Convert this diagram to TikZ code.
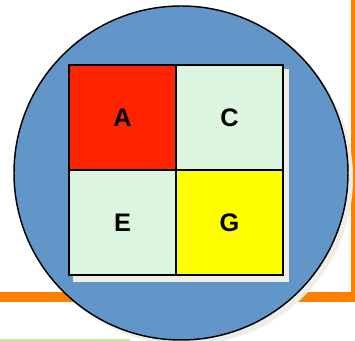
\documentclass[tikz,border=0pt]{standalone}
\usepackage{xcolor}
\usepackage{fontspec}
\setmainfont{Liberation Sans}
\usepackage{tikz}

\definecolor{discblue}{RGB}{98,150,201}
\definecolor{shadowgrey}{RGB}{238,238,230}
\definecolor{barorange}{RGB}{255,128,0}
\definecolor{linegreen}{RGB}{198,230,160}
\definecolor{cellred}{RGB}{255,36,0}
\definecolor{cellmint}{RGB}{219,245,222}
\definecolor{cellyellow}{RGB}{255,255,0}

\begin{document}
\begin{tikzpicture}[x=0.75pt,y=0.75pt,yscale=-1,xscale=1]
\tikzset{
  cell/.style={draw, line width=1.5pt, inner sep=0pt, minimum width=80.25pt, minimum height=78.75pt,
    font=\fontsize{19}{19}\selectfont\bfseries}
}
\useasboundingbox (0,0) rectangle (355,341);
\clip (0,0) rectangle (355,341);

%Straight Lines: orange bar
\draw [color=barorange, line width=7.9pt]  (0,296.8) -- (356.2,296.8) -- (356.2,-10) ;
%Straight Lines: green line
\fill [color=linegreen]  (0,339.3) rectangle (130,342) ;

%Shape: Circle shadow
\fill [color=shadowgrey]  (186,178) circle [radius=167] ;
%Shape: Circle
\draw [fill=discblue, line width=1.1pt]  (181,173) circle [radius=167] ;

%Shape: Rectangle shadow
\fill [color=shadowgrey]  (73,69) rectangle (289,282.5) ;

% Cell Nodes
\node (cellA) [cell, fill=cellred] at (122.5,117.5) {A};
\node (cellC) [cell, fill=cellmint] at (229.5,117.5) {C};
\node (cellE) [cell, fill=cellmint] at (122.5,222.5) {E};
\node (cellG) [cell, fill=cellyellow] at (229.5,222.5) {G};

\end{tikzpicture}
\end{document}
